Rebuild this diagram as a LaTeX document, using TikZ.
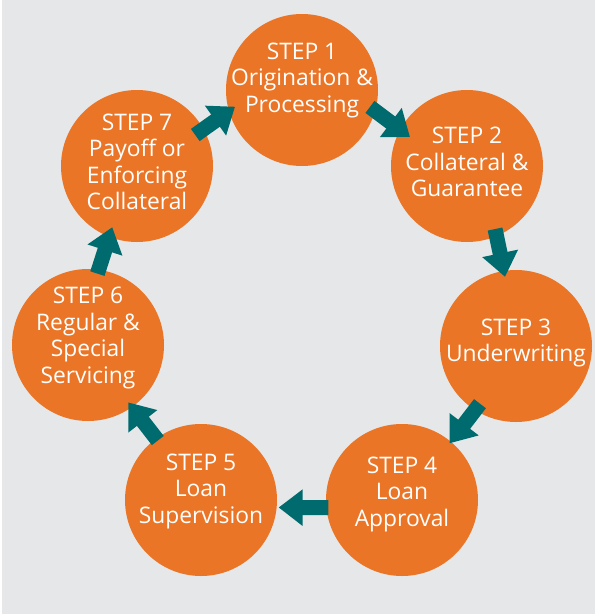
\documentclass[tikz,border=0pt]{standalone}
\usepackage{fontspec}
\setmainfont{Open Sans}
\usetikzlibrary{arrows.meta}
\definecolor{steporange}{HTML}{EB7526}
\definecolor{stepteal}{HTML}{006B6E}
\definecolor{panelgrey}{HTML}{E6E7E8}

\begin{document}
\begin{tikzpicture}[x=1pt,y=-1pt,
    stepnode/.style={circle, fill=steporange, minimum size=152pt, inner sep=0pt},
    steplabel/.style={text=white, align=center, font=\fontsize{22.8}{26.5}\selectfont},
    flow/.style={draw=stepteal, line width=15pt, -{Triangle[width=35pt,length=24pt]}}]
    \fill[white] (0,0) rectangle (595,614);
    \fill[panelgrey] (2,0) rectangle (595,614);
    \useasboundingbox (0,0) rectangle (595,614);

    \node[stepnode] (s1) at (302,90) {};
    \node[stepnode] (s2) at (467,166) {};
    \node[stepnode] (s3) at (516,346) {};
    \node[stepnode] (s4) at (402,500) {};
    \node[stepnode] (s5) at (201,500) {};
    \node[stepnode] (s6) at (88,345) {};
    \node[stepnode] (s7) at (137,166) {};

    \node[steplabel] (t1) at ([yshift=10pt]s1.center) {STEP 1\\Origination \&\\Processing};
    \node[steplabel] (t2) at ([yshift=4pt]s2.center) {STEP 2\\Collateral \&\\Guarantee};
    \node[steplabel] (t3) at ([yshift=3pt]s3.center) {STEP 3\\Underwriting};
    \node[steplabel] (t4) at ([yshift=6pt]s4.center) {STEP 4\\Loan\\Approval};
    \node[steplabel] (t5) at ([yshift=9pt]s5.center) {STEP 5\\Loan\\Supervision};
    \node[steplabel] (t6) at ([yshift=7pt]s6.center) {STEP 6\\Regular \&\\Special\\Servicing};
    \node[steplabel] (t7) at ([yshift=4pt]s7.center) {STEP 7\\Payoff or\\Enforcing\\Collateral};

    % arrows sit in the gaps, a little into each circle
    \draw[flow] ([shift={(-14:70pt)}]s1.center) -- ([shift={(153:64pt)}]s2.center);
    \draw[flow] ([shift={(-66:69pt)}]s2.center) -- ([shift={(99:70pt)}]s3.center);
    \draw[flow] ([shift={(-122:68pt)}]s3.center) -- ([shift={(50:74pt)}]s4.center);
    \draw[flow] ([shift={(186:74pt)}]s4.center) -- ([shift={(-5.5:78pt)}]s5.center);
    \draw[flow] ([shift={(126:73.5pt)}]s5.center) -- ([shift={(-55:70pt)}]s6.center);
    \draw[flow] ([shift={(82.5:72pt)}]s6.center) -- ([shift={(-112:66pt)}]s7.center);
    \draw[flow] ([shift={(28:66pt)}]s7.center) -- ([shift={(194:69pt)}]s1.center);
\end{tikzpicture}
\end{document}
